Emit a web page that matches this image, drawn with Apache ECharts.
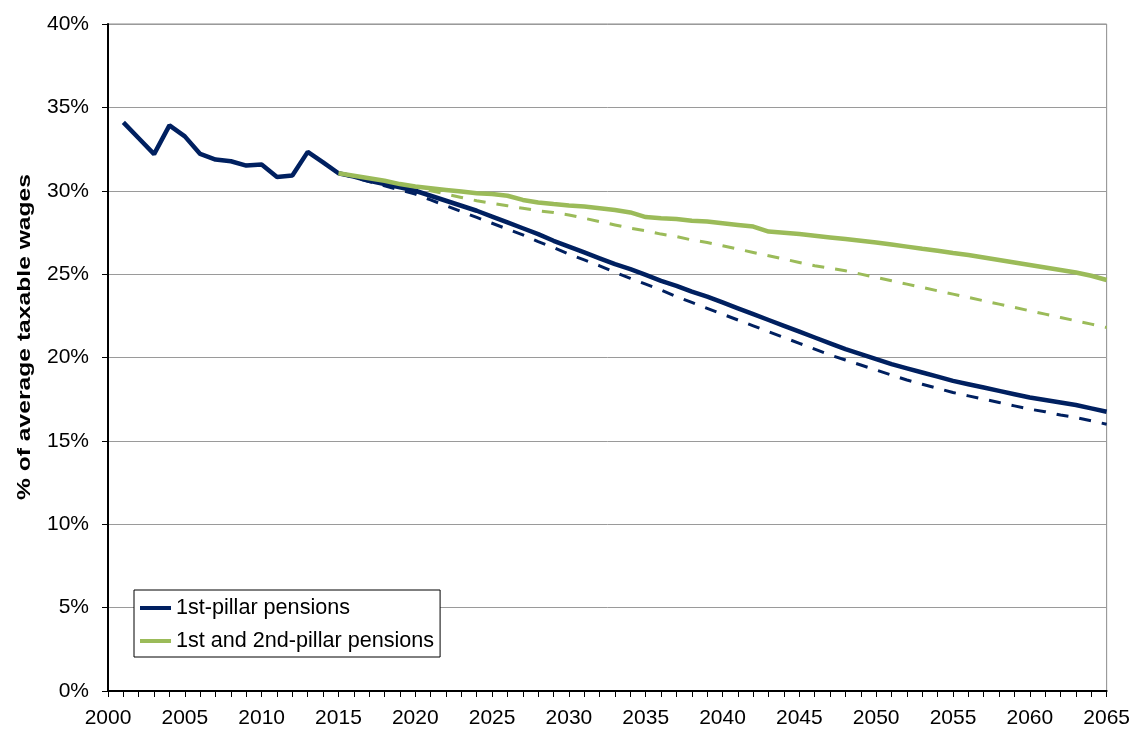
<!DOCTYPE html>
<html>
<head>
<meta charset="utf-8">
<script src="https://cdn.jsdelivr.net/npm/echarts@6/dist/echarts.min.js"></script>
<style>
html,body{margin:0;padding:0;background:#fff;}
#chart{width:1133px;height:729px;}
</style>
</head>
<body>
<div id="chart"></div>
<script>
// Years
const histYears = [2001,2002,2003,2004,2005,2006,2007,2008,2009,2010,2011,2012,2013,2014];
const projYears = [];
for (let y = 2015; y <= 2065; y++) projYears.push(y);

// 1st-pillar pensions, historical 2001-2014
const pillar1Hist = [34.1,33.15,32.2,33.92,33.26,32.21,31.87,31.77,31.51,31.57,30.83,30.91,32.33,31.7];

// 1st-pillar pensions, projection 2015-2065 (solid)
const pillar1Proj = [31.05,30.85,30.6,30.4,30.2,30.0,29.7,29.4,29.1,28.8,28.45,28.1,27.75,27.4,27.0,26.65,26.3,25.95,25.6,25.3,24.95,24.6,24.3,23.95,23.65,23.3,22.95,22.6,22.25,21.9,21.55,21.2,20.85,20.5,20.2,19.9,19.6,19.35,19.1,18.85,18.6,18.4,18.2,18.0,17.8,17.6,17.45,17.3,17.15,16.95,16.75];

// 1st-pillar pensions, alternative projection (dashed)
const pillar1Alt = [31.05,30.8,30.55,30.3,30.05,29.8,29.45,29.1,28.75,28.4,28.05,27.7,27.35,26.95,26.6,26.2,25.85,25.5,25.1,24.75,24.4,24.05,23.65,23.3,22.95,22.6,22.25,21.9,21.55,21.2,20.85,20.5,20.15,19.85,19.55,19.25,18.95,18.65,18.4,18.15,17.9,17.7,17.5,17.3,17.1,16.9,16.75,16.55,16.4,16.2,16.0];

// 1st and 2nd-pillar pensions, projection (solid)
const pillar12Proj = [31.05,30.9,30.75,30.6,30.4,30.25,30.15,30.05,29.95,29.85,29.8,29.7,29.45,29.3,29.2,29.12,29.05,28.95,28.85,28.7,28.42,28.35,28.3,28.2,28.15,28.05,27.95,27.85,27.55,27.48,27.4,27.3,27.2,27.1,27.0,26.9,26.78,26.65,26.52,26.4,26.27,26.15,26.0,25.85,25.7,25.55,25.4,25.25,25.1,24.9,24.65];

// 1st and 2nd-pillar pensions, alternative projection (dashed)
const pillar12Alt = [31.05,30.9,30.75,30.6,30.4,30.2,30.0,29.8,29.6,29.4,29.25,29.1,28.95,28.8,28.7,28.55,28.35,28.15,27.95,27.75,27.6,27.4,27.25,27.05,26.9,26.7,26.5,26.3,26.1,25.9,25.7,25.5,25.35,25.2,25.0,24.8,24.6,24.4,24.2,24.0,23.8,23.6,23.4,23.2,23.0,22.8,22.6,22.4,22.2,22.0,21.8];

const legendNames = ['1st-pillar pensions', '1st and 2nd-pillar pensions'];
const yAxisTitle = '% of average taxable wages';

const zip = (xs, ys) => xs.map((x, i) => [x, ys[i]]);
const blueSolidData = zip(histYears, pillar1Hist).concat(zip(projYears, pillar1Proj));

const NAVY = '#002060';
const GREEN = '#9BBB59';
const FONT = 'Liberation Sans, Arial, sans-serif';

const chart = echarts.init(document.getElementById('chart'), null, {renderer: 'canvas'});
chart.setOption({
  animation: false,
  backgroundColor: '#fff',
  grid: {left: 108, right: 26, top: 24, bottom: 36, show: true, borderColor: '#8c8c8c', borderWidth: 1},
  graphic: [{
    type: 'text',
    x: 25, y: 337,
    rotation: Math.PI / 2,
    scaleX: 1.45,
    scaleY: 1.05,
    silent: true,
    style: {
      text: yAxisTitle,
      font: 'bold 17px Liberation Sans, Arial, sans-serif',
      fill: '#000',
      align: 'center',
      verticalAlign: 'middle'
    }
  }],
  legend: {
    data: legendNames,
    orient: 'vertical',
    left: 134, top: 590,
    backgroundColor: '#fff',
    borderColor: '#000', borderWidth: 1,
    padding: [7, 6, 5, 6],
    icon: 'rect',
    itemWidth: 31, itemHeight: 4, itemGap: 11,
    textStyle: {fontFamily: FONT, fontSize: 21.6, lineHeight: 22, color: '#000'}
  },
  xAxis: {
    type: 'value', min: 2000, max: 2065, interval: 5,
    axisLine: {show: true, onZero: false, lineStyle: {color: '#000', width: 2}},
    axisTick: {show: true, length: 6, lineStyle: {color: '#000', width: 1}},
    minorTick: {show: true, splitNumber: 5, length: 6, lineStyle: {color: '#000', width: 1}},
    splitLine: {show: false},
    axisLabel: {fontFamily: FONT, fontSize: 21, color: '#000', margin: 17, formatter: v => String(v)}
  },
  yAxis: {
    type: 'value', min: 0, max: 40, interval: 5,
    axisLine: {show: true, lineStyle: {color: '#000', width: 2}},
    axisTick: {show: true, length: 6, lineStyle: {color: '#000', width: 1}},
    splitLine: {show: true, lineStyle: {color: '#9a9a9a', width: 1}},
    axisLabel: {fontFamily: FONT, fontSize: 21, color: '#000', margin: 19, formatter: '{value}%'}
  },
  series: [
    {name: 'alt1', type: 'line', data: zip(projYears, pillar1Alt), symbol: 'none', silent: true,
     lineStyle: {color: NAVY, width: 3, type: [12, 11]}, itemStyle: {color: NAVY}},
    {name: 'alt12', type: 'line', data: zip(projYears, pillar12Alt), symbol: 'none', silent: true,
     lineStyle: {color: GREEN, width: 3, type: [12, 11]}, itemStyle: {color: GREEN}},
    {name: legendNames[0], type: 'line', data: blueSolidData, symbol: 'none',
     lineStyle: {color: NAVY, width: 4.5}, itemStyle: {color: NAVY}},
    {name: legendNames[1], type: 'line', data: zip(projYears, pillar12Proj), symbol: 'none',
     lineStyle: {color: GREEN, width: 4.5}, itemStyle: {color: GREEN}}
  ]
});
</script>
</body>
</html>
